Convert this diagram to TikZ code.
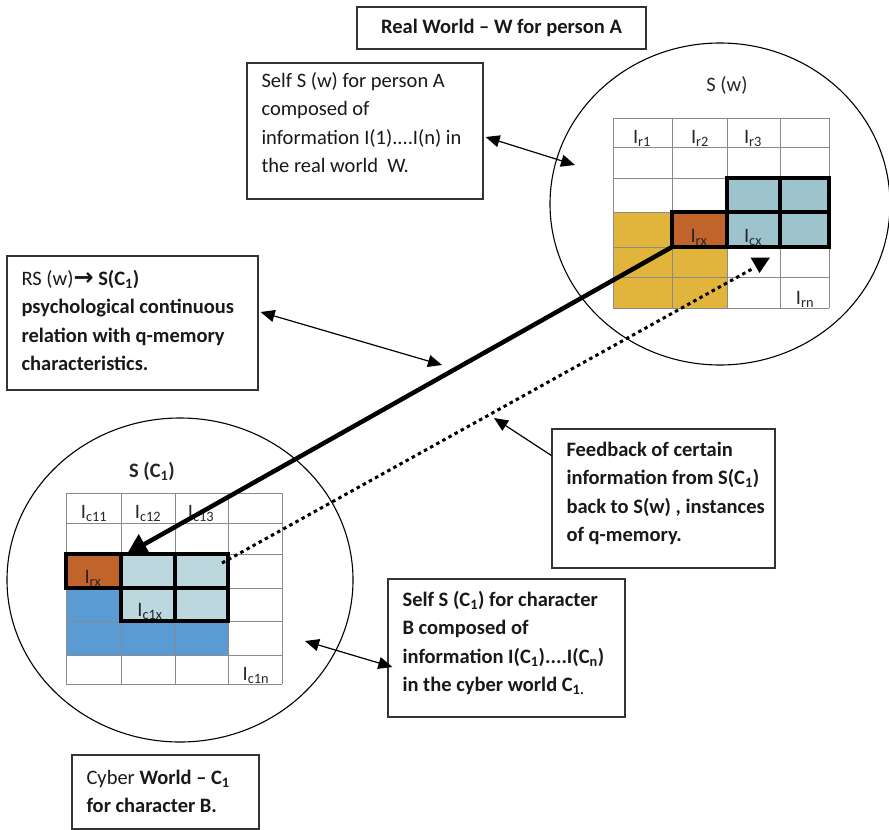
\documentclass[tikz,border=0pt]{standalone}
\usepackage{fontspec}
\setmainfont{Carlito}
\newfontfamily\arrowfont{DejaVu Sans}
\usetikzlibrary{arrows.meta,shapes.geometric}
\definecolor{goldc}{HTML}{E1B43C}
\definecolor{rustc}{HTML}{C0642C}
\definecolor{tealc}{HTML}{9DC4CC}
\definecolor{lteal}{HTML}{BDD7DE}
\definecolor{bluec}{HTML}{5B9BD3}
\definecolor{gridc}{HTML}{8A8A8A}
\newcommand\txtlines[1]{\begin{tabular}[t]{@{}l@{}}#1\end{tabular}}
\newcommand\Isub[1]{I\textsubscript{#1}}
\begin{document}
\begin{tikzpicture}[x=1pt,y=-1pt,
  box/.style={draw=black!80, line width=1.3pt, fill=white, rectangle, inner sep=0pt},
  txt/.style={font=\fontsize{20.5}{28.5}\selectfont, inner sep=0pt, text=black!90},
  lbl/.style={font=\fontsize{20.5}{24}\selectfont, inner sep=0pt, text=black!85, anchor=base},
  world/.style={draw=black, line width=1.1pt, ellipse, inner sep=0pt},
  gridline/.style={draw=gridc, line width=1pt},
  thickb/.style={draw=black, line width=4pt, line join=miter},
  thinarrow/.style={line width=1.2pt, {Triangle[length=14pt,width=12pt]}-{Triangle[length=14pt,width=12pt]}},
  onearrow/.style={line width=1.2pt, -{Triangle[length=14pt,width=12pt]}},
  bigarrow/.style={line width=4.5pt, -{Triangle[length=20pt,width=22pt]}},
  dotline/.style={line width=3pt, dash pattern=on 3.5pt off 3.5pt}
]
\useasboundingbox (0,0) rectangle (889,830);
\fill[white] (0,0) rectangle (889,830);

% worlds
\node[world, minimum width=340, minimum height=322] (sw) at (720,204) {};
\node[world, minimum width=346, minimum height=324] (sc) at (180,580) {};
\node[lbl] (swlabel) at (727,91) {S (w)};
\node[lbl, font=\fontsize{20.5}{24}\selectfont\bfseries] (sclabel) at (152,477) {S (C\textsubscript{1})};

% ---- top grid (real world)
\fill[goldc] (613,212) rectangle (672,308);
\fill[goldc] (672,247) rectangle (727,308);
\fill[rustc] (672,212) rectangle (727,247);
\fill[tealc] (727,178) rectangle (829,247);
\foreach \x in {613,672,727,780,829} \draw[gridline] (\x,118) -- (\x,308);
\foreach \y in {118,147,178,212,247,277,308} \draw[gridline] (613,\y) -- (829,\y);
\node[lbl] (ir1) at (642,143) {\Isub{r1}};
\node[lbl] (ir2) at (700,143) {\Isub{r2}};
\node[lbl] (ir3) at (753,143) {\Isub{r3}};
\node[lbl] (irx) at (699,242) {\Isub{rx}};
\node[lbl] (icx) at (753,242) {\Isub{cx}};
\node[lbl] (irn) at (805,304) {\Isub{rn}};

% ---- bottom grid (cyber world)
\fill[rustc] (66,554) rectangle (121,588);
\fill[lteal] (121,554) rectangle (228,621);
\fill[bluec] (66,588) rectangle (121,621);
\fill[bluec] (66,621) rectangle (228,655);
\foreach \x in {66,121,175,228,282} \draw[gridline] (\x,493) -- (\x,684);
\foreach \y in {493,523,554,588,621,655,684} \draw[gridline] (66,\y) -- (282,\y);
\node[lbl] (ic11) at (94,518) {\Isub{c11}};
\node[lbl] (ic12) at (148,518) {\Isub{c12}};
\node[lbl] (ic13) at (201,518) {\Isub{c13}};
\node[lbl] (crx) at (93,583) {\Isub{rx}};
\node[lbl] (ic1x) at (150,616) {\Isub{c1x}};
\node[lbl] (ic1n) at (256,680) {\Isub{c1n}};

% ---- connectors between worlds
\coordinate (rxcorner) at (672,247);
\coordinate (cxtip) at (127,554);
\coordinate (fbstart) at (222,563);
\coordinate (fbend) at (752,269);
\draw[dotline] (fbstart) -- (fbend);
\fill (750.5,257.5) -- (770,257.5) -- (759.5,273) -- cycle;
\draw[bigarrow] (rxcorner) -- (cxtip);

% thick borders
\draw[thickb] (672,212) rectangle (727,247);
\draw[thickb] (727,178) rectangle (829,247);
\draw[thickb] (780,178) -- (780,247) (727,212) -- (829,212);
\draw[thickb] (66,554) rectangle (121,588);
\draw[thickb] (121,554) rectangle (228,621);
\draw[thickb] (175,554) -- (175,621) (121,588) -- (228,588);

% ---- boxes
\node[box, minimum width=289, minimum height=42, font=\fontsize{20.5}{24}\selectfont\bfseries, text=black!90] (title) at (501.5,28) {Real World -- W for person A};
\node[box, minimum width=236, minimum height=136] (selfw) at (365,131) {};
\node[txt, anchor=base west] (selfwt) at ([shift={(15,25)}]selfw.north west)
  {\txtlines{Self S (w) for person A\\composed of\\information I(1)....I(n) in\\the real world\ \ W.}};
\node[box, minimum width=251, minimum height=134] (rs) at (132.5,323) {};
\node[txt, anchor=base west] (rst) at ([shift={(15,30)}]rs.north west)
  {\txtlines{RS (w){\arrowfont\bfseries\fontsize{24}{24}\selectfont\raisebox{-0.5pt}{→}} \textbf{S(C\textsubscript{1})}\\\textbf{psychological continuous}\\\textbf{relation with q-memory}\\\textbf{characteristics.}}};
\node[box, minimum width=223, minimum height=139] (fb) at (663.5,498.5) {};
\node[txt, anchor=base west, font=\fontsize{20.5}{28.5}\selectfont\bfseries] (fbt) at ([shift={(15,28)}]fb.north west)
  {\txtlines{Feedback of certain\\information from S(C\textsubscript{1})\\back to S(w) , instances\\of q-memory.}};
\node[box, minimum width=237, minimum height=138] (selfc) at (506.5,648) {};
\node[txt, anchor=base west, font=\fontsize{20.5}{28.5}\selectfont\bfseries] (selfct) at ([shift={(15,28)}]selfc.north west)
  {\txtlines{Self S (C\textsubscript{1}) for character\\B composed of\\information I(C\textsubscript{1})....I(C\textsubscript{n})\\in the cyber world C\textsubscript{1.}}};
\node[box, minimum width=187, minimum height=74] (cyber) at (165.5,792) {};
\node[txt, anchor=base west] (cybert) at ([shift={(15,30)}]cyber.north west)
  {\txtlines{Cyber \textbf{World -- C\textsubscript{1}}\\\textbf{for character B.}}};

% ---- annotation arrows
\coordinate (swpt) at (575,165);
\coordinate (thickpt) at (442,365);
\coordinate (dotpt) at (494,418);
\coordinate (scpt) at (305,641);
\draw[thinarrow] ([shift={(2,6)}]selfw.east) -- (swpt);
\draw[thinarrow] ([shift={(2,-11)}]rs.east) -- (thickpt);
\draw[onearrow] ([shift={(0,-43)}]fb.west) -- (dotpt);
\draw[thinarrow] ([shift={(5,19)}]selfc.west) -- (scpt);
\end{tikzpicture}
\end{document}
